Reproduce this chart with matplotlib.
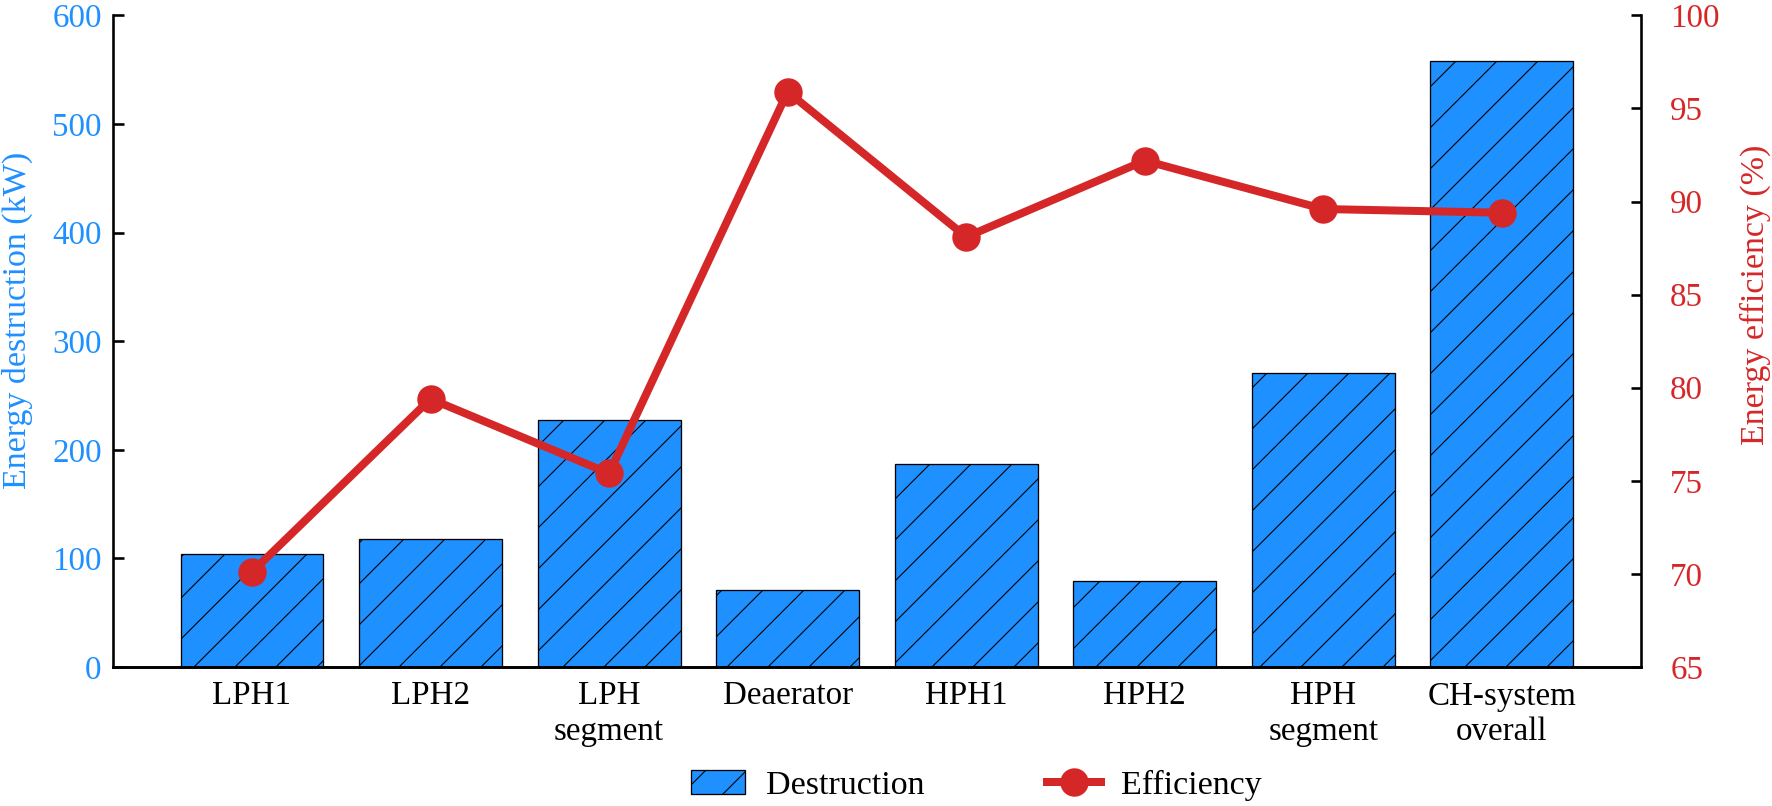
import matplotlib
matplotlib.use("Agg")
import matplotlib.pyplot as plt

# values
categories = ["LPH1", "LPH2", "LPH\nsegment", "Deaerator", "HPH1", "HPH2",
              "HPH\nsegment", "CH-system\noverall"]
destruction = [104.4, 117.5, 227.0, 71.0, 187.3, 79.6, 270.5, 558.0]
efficiency = [70.1, 79.4, 75.4, 95.9, 88.1, 92.2, 89.6, 89.4]
left_ticks = [0, 100, 200, 300, 400, 500, 600]
right_ticks = [65, 70, 75, 80, 85, 90, 95, 100]

blue = "#1e90ff"
red = "#d62728"

# dpi chosen so the hatch spacing matches the reference (dpi / 6 px)
dpi = 246


def px(v):
    # pixels -> points at this dpi
    return v * 72.0 / dpi


plt.rcParams["font.family"] = ["Liberation Serif", "DejaVu Serif"]
plt.rcParams["font.size"] = px(33)
plt.rcParams["hatch.linewidth"] = px(1.1)
plt.rcParams["axes.linewidth"] = px(2.6)

fig = plt.figure(figsize=(1772 / dpi, 806 / dpi), dpi=dpi)
ax = fig.add_axes([112.7 / 1772, 139 / 806, 1528.5 / 1772, 651.6 / 806])

x = list(range(len(categories)))
bars = ax.bar(x, destruction, width=0.8, color=blue, edgecolor="black",
              linewidth=px(1.3), hatch="//", label="Destruction")

ax.set_xlim(-0.78, len(categories) - 1 + 0.78)
ax.set_ylim(0, 600)
ax.set_yticks(left_ticks)
ax.set_xticks(x)
ax.set_xticklabels(categories)
ax.tick_params(axis="x", length=0, pad=px(14))
ax.tick_params(axis="y", direction="in", length=px(11), width=px(2.6),
               colors="black", labelcolor=blue, pad=px(11))
ax.set_ylabel("Energy destruction (kW)", color=blue, fontsize=px(34))
ax.yaxis.set_label_coords(-0.0519, 0.5325)
ax.spines["top"].set_visible(False)
ax.spines["right"].set_visible(False)

ax2 = ax.twinx()
line, = ax2.plot(x, efficiency, color=red, linewidth=px(8), marker="o",
                 markersize=px(25), label="Efficiency")
ax2.set_ylim(65, 100)
ax2.set_yticks(right_ticks)
ax2.tick_params(axis="y", direction="in", length=px(10), width=px(2.6),
                colors="black", labelcolor=red, pad=px(29))
ax2.set_ylabel("Energy efficiency (%)", color=red, fontsize=px(34))
ax2.yaxis.set_label_coords(1.0643, 0.5717)
ax2.spines["top"].set_visible(False)
ax2.spines["left"].set_visible(False)

fig.legend(handles=[bars, line], labels=["Destruction", "Efficiency"],
           loc="center", bbox_to_anchor=(0.551, 0.026), ncol=2,
           frameon=False, fontsize=px(34), columnspacing=3.6,
           handlelength=1.6, handletextpad=0.6, borderaxespad=0,
           borderpad=0)

fig.savefig("out.png", dpi=dpi)
